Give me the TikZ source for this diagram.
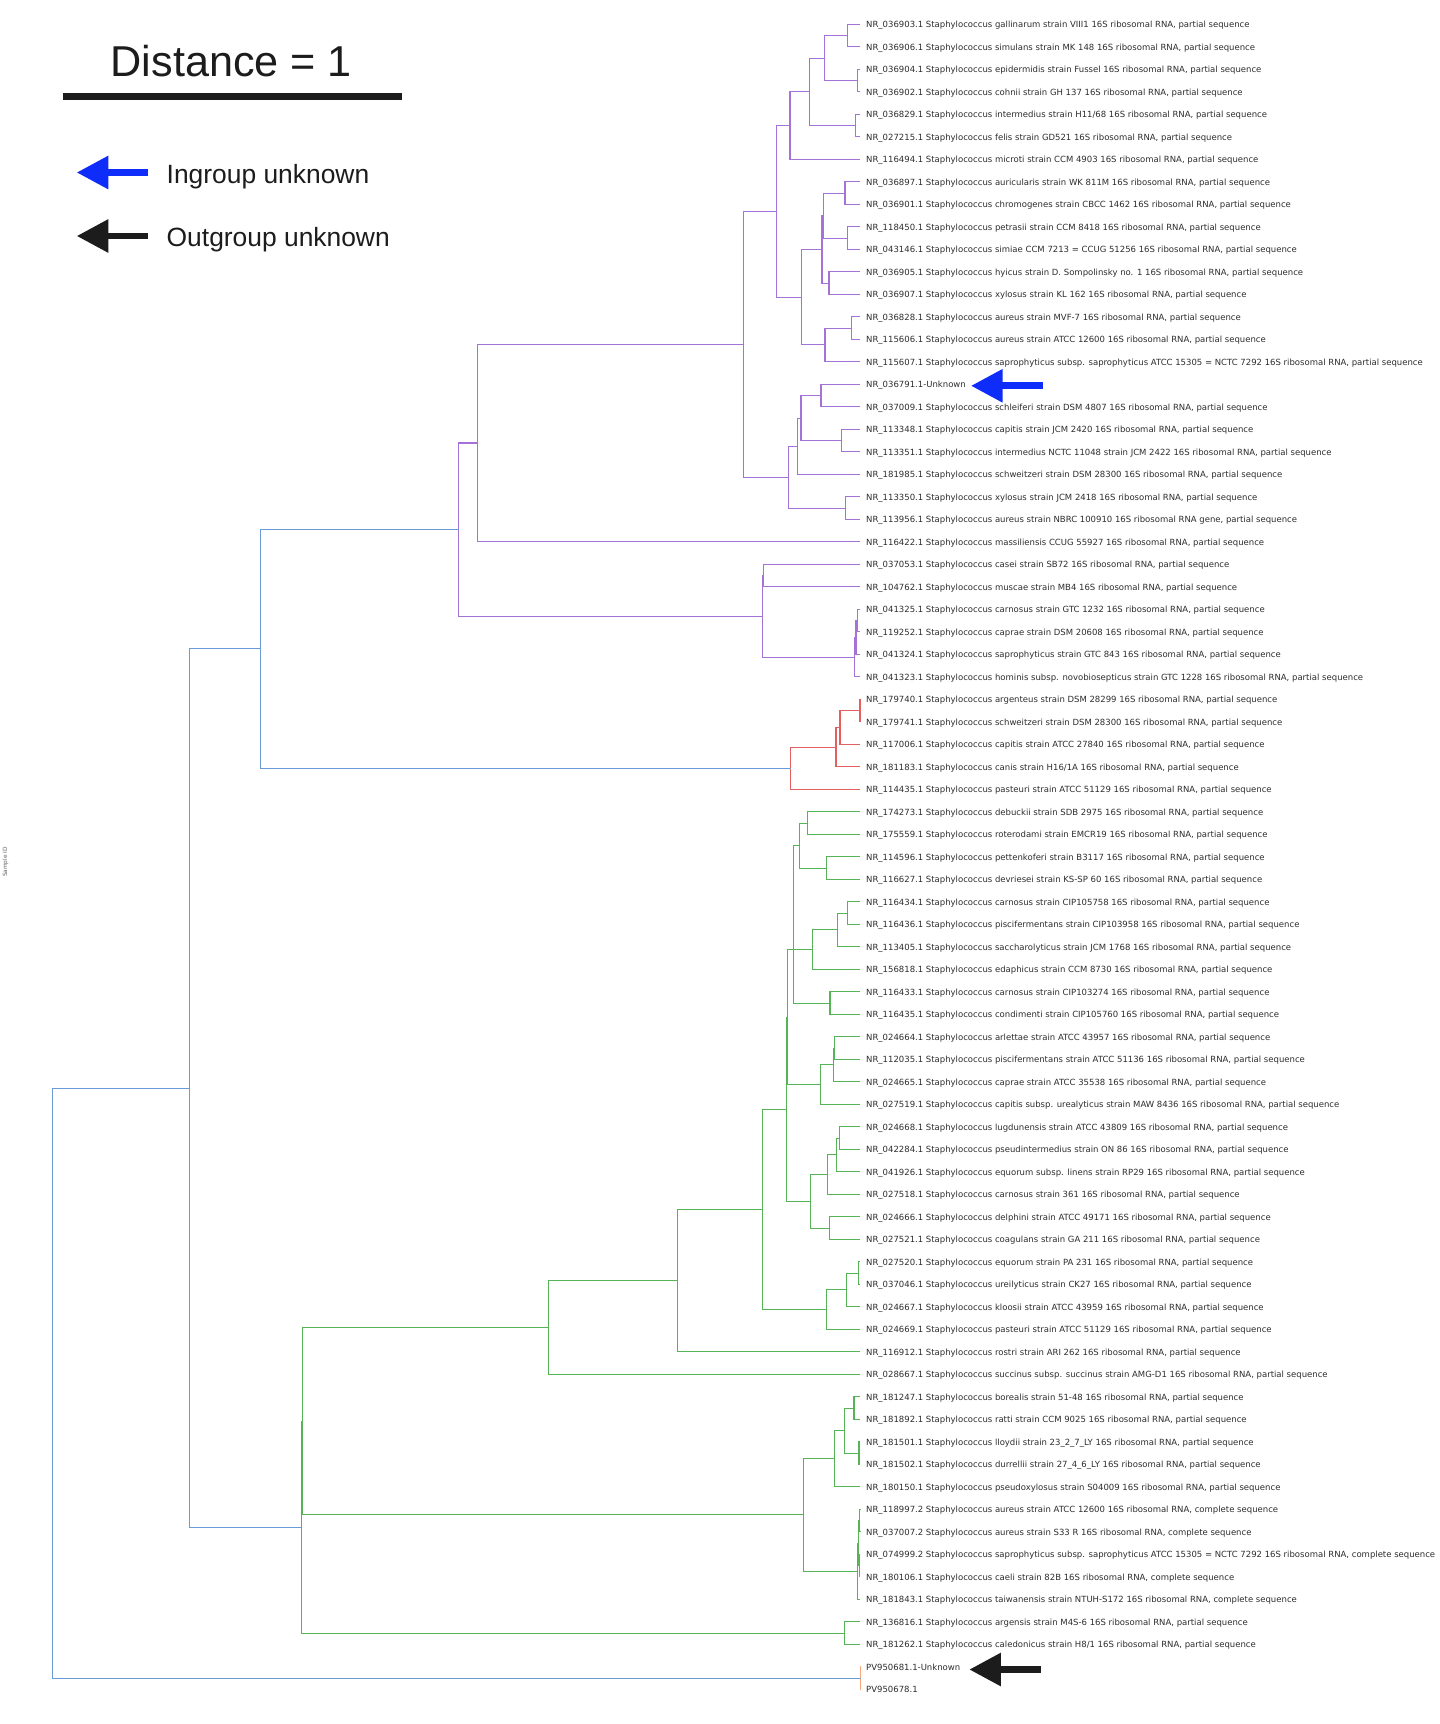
\documentclass[tikz,border=0pt]{standalone}
\usepackage{fontspec}
\setmainfont{DejaVu Sans}
\newfontfamily\legfont{Liberation Sans}
\usetikzlibrary{arrows.meta,calc}
\definecolor{cP}{RGB}{165,115,215}
\definecolor{cR}{RGB}{228,95,95}
\definecolor{cG}{RGB}{85,180,85}
\definecolor{cB}{RGB}{105,155,215}
\definecolor{cO}{RGB}{248,165,120}
\definecolor{cT}{RGB}{45,45,45}
\definecolor{cK}{RGB}{28,28,28}
\definecolor{cA}{RGB}{15,45,250}
\newcommand\ps{16S ribosomal RNA, partial sequence}
\newcommand\cs{16S ribosomal RNA, complete sequence}
\newcommand\St{Staphylococcus}
% tree node: colour, name, x, child a, child b
\newcommand\tn[5]{%
  \path let \p1=(#4), \p2=(#5) in ({#3pt},{0.5*(\y1+\y2)}) coordinate (#2);
  \draw[treeline,#1] (#4) -| (#2) |- (#5);}
\newcommand\leaf[2]{%
  \coordinate (l#1) at (860,{-24.3-22.5*(#1-1)});
  \node[leaflabel] (t#1) at (866,{-27.6-22.5*(#1-1)}) {#2};}
\tikzset{
  treeline/.style={line width=1.05pt},
  leaflabel/.style={anchor=base west,inner sep=0pt,text=cT,font=\fontsize{8.5}{10}\selectfont},
  legtext/.style={anchor=base west,inner sep=0pt,text=cK},
  bigarrow/.style={line width=6.8pt,-{Triangle[length=31.6pt,width=31.7pt]}},
}
\begin{document}
\begin{tikzpicture}[x=1pt,y=1pt]
\fill[white] (0,0) rectangle (1440,-1724);
\useasboundingbox (0,0) rectangle (1440,-1724);

% ---------- leaves ----------
\leaf{1}{NR\_036903.1 \St{} gallinarum strain VIII1 \ps}
\leaf{2}{NR\_036906.1 \St{} simulans strain MK 148 \ps}
\leaf{3}{NR\_036904.1 \St{} epidermidis strain Fussel \ps}
\leaf{4}{NR\_036902.1 \St{} cohnii strain GH 137 \ps}
\leaf{5}{NR\_036829.1 \St{} intermedius strain H11/68 \ps}
\leaf{6}{NR\_027215.1 \St{} felis strain GD521 \ps}
\leaf{7}{NR\_116494.1 \St{} microti strain CCM 4903 \ps}
\leaf{8}{NR\_036897.1 \St{} auricularis strain WK 811M \ps}
\leaf{9}{NR\_036901.1 \St{} chromogenes strain CBCC 1462 \ps}
\leaf{10}{NR\_118450.1 \St{} petrasii strain CCM 8418 \ps}
\leaf{11}{NR\_043146.1 \St{} simiae CCM 7213 = CCUG 51256 \ps}
\leaf{12}{NR\_036905.1 \St{} hyicus strain D. Sompolinsky no. 1 \ps}
\leaf{13}{NR\_036907.1 \St{} xylosus strain KL 162 \ps}
\leaf{14}{NR\_036828.1 \St{} aureus strain MVF-7 \ps}
\leaf{15}{NR\_115606.1 \St{} aureus strain ATCC 12600 \ps}
\leaf{16}{NR\_115607.1 \St{} saprophyticus subsp. saprophyticus ATCC 15305 = NCTC 7292 \ps}
\leaf{17}{NR\_036791.1-Unknown}
\leaf{18}{NR\_037009.1 \St{} schleiferi strain DSM 4807 \ps}
\leaf{19}{NR\_113348.1 \St{} capitis strain JCM 2420 \ps}
\leaf{20}{NR\_113351.1 \St{} intermedius NCTC 11048 strain JCM 2422 \ps}
\leaf{21}{NR\_181985.1 \St{} schweitzeri strain DSM 28300 \ps}
\leaf{22}{NR\_113350.1 \St{} xylosus strain JCM 2418 \ps}
\leaf{23}{NR\_113956.1 \St{} aureus strain NBRC 100910 16S ribosomal RNA gene, partial sequence}
\leaf{24}{NR\_116422.1 \St{} massiliensis CCUG 55927 \ps}
\leaf{25}{NR\_037053.1 \St{} casei strain SB72 \ps}
\leaf{26}{NR\_104762.1 \St{} muscae strain MB4 \ps}
\leaf{27}{NR\_041325.1 \St{} carnosus strain GTC 1232 \ps}
\leaf{28}{NR\_119252.1 \St{} caprae strain DSM 20608 \ps}
\leaf{29}{NR\_041324.1 \St{} saprophyticus strain GTC 843 \ps}
\leaf{30}{NR\_041323.1 \St{} hominis subsp. novobiosepticus strain GTC 1228 \ps}
\leaf{31}{NR\_179740.1 \St{} argenteus strain DSM 28299 \ps}
\leaf{32}{NR\_179741.1 \St{} schweitzeri strain DSM 28300 \ps}
\leaf{33}{NR\_117006.1 \St{} capitis strain ATCC 27840 \ps}
\leaf{34}{NR\_181183.1 \St{} canis strain H16/1A \ps}
\leaf{35}{NR\_114435.1 \St{} pasteuri strain ATCC 51129 \ps}
\leaf{36}{NR\_174273.1 \St{} debuckii strain SDB 2975 \ps}
\leaf{37}{NR\_175559.1 \St{} roterodami strain EMCR19 \ps}
\leaf{38}{NR\_114596.1 \St{} pettenkoferi strain B3117 \ps}
\leaf{39}{NR\_116627.1 \St{} devriesei strain KS-SP 60 \ps}
\leaf{40}{NR\_116434.1 \St{} carnosus strain CIP105758 \ps}
\leaf{41}{NR\_116436.1 \St{} piscifermentans strain CIP103958 \ps}
\leaf{42}{NR\_113405.1 \St{} saccharolyticus strain JCM 1768 \ps}
\leaf{43}{NR\_156818.1 \St{} edaphicus strain CCM 8730 \ps}
\leaf{44}{NR\_116433.1 \St{} carnosus strain CIP103274 \ps}
\leaf{45}{NR\_116435.1 \St{} condimenti strain CIP105760 \ps}
\leaf{46}{NR\_024664.1 \St{} arlettae strain ATCC 43957 \ps}
\leaf{47}{NR\_112035.1 \St{} piscifermentans strain ATCC 51136 \ps}
\leaf{48}{NR\_024665.1 \St{} caprae strain ATCC 35538 \ps}
\leaf{49}{NR\_027519.1 \St{} capitis subsp. urealyticus strain MAW 8436 \ps}
\leaf{50}{NR\_024668.1 \St{} lugdunensis strain ATCC 43809 \ps}
\leaf{51}{NR\_042284.1 \St{} pseudintermedius strain ON 86 \ps}
\leaf{52}{NR\_041926.1 \St{} equorum subsp. linens strain RP29 \ps}
\leaf{53}{NR\_027518.1 \St{} carnosus strain 361 \ps}
\leaf{54}{NR\_024666.1 \St{} delphini strain ATCC 49171 \ps}
\leaf{55}{NR\_027521.1 \St{} coagulans strain GA 211 \ps}
\leaf{56}{NR\_027520.1 \St{} equorum strain PA 231 \ps}
\leaf{57}{NR\_037046.1 \St{} ureilyticus strain CK27 \ps}
\leaf{58}{NR\_024667.1 \St{} kloosii strain ATCC 43959 \ps}
\leaf{59}{NR\_024669.1 \St{} pasteuri strain ATCC 51129 \ps}
\leaf{60}{NR\_116912.1 \St{} rostri strain ARI 262 \ps}
\leaf{61}{NR\_028667.1 \St{} succinus subsp. succinus strain AMG-D1 \ps}
\leaf{62}{NR\_181247.1 \St{} borealis strain 51-48 \ps}
\leaf{63}{NR\_181892.1 \St{} ratti strain CCM 9025 \ps}
\leaf{64}{NR\_181501.1 \St{} lloydii strain 23\_2\_7\_LY \ps}
\leaf{65}{NR\_181502.1 \St{} durrellii strain 27\_4\_6\_LY \ps}
\leaf{66}{NR\_180150.1 \St{} pseudoxylosus strain S04009 \ps}
\leaf{67}{NR\_118997.2 \St{} aureus strain ATCC 12600 \cs}
\leaf{68}{NR\_037007.2 \St{} aureus strain S33 R \cs}
\leaf{69}{NR\_074999.2 \St{} saprophyticus subsp. saprophyticus ATCC 15305 = NCTC 7292 \cs}
\leaf{70}{NR\_180106.1 \St{} caeli strain 82B \cs}
\leaf{71}{NR\_181843.1 \St{} taiwanensis strain NTUH-S172 \cs}
\leaf{72}{NR\_136816.1 \St{} argensis strain M4S-6 \ps}
\leaf{73}{NR\_181262.1 \St{} caledonicus strain H8/1 \ps}
\leaf{74}{PV950681.1-Unknown}
\leaf{75}{PV950678.1}

% ---------- purple clade ----------
\tn{cP}{p12}{847.3}{l1}{l2}
\tn{cP}{p34}{857.7}{l3}{l4}
\tn{cP}{p14}{824.3}{p12}{p34}
\tn{cP}{p56}{855.7}{l5}{l6}
\tn{cP}{p16}{809.3}{p14}{p56}
\tn{cP}{p17}{790}{p16}{l7}
\tn{cP}{p89}{845}{l8}{l9}
\tn{cP}{p1011}{847.3}{l10}{l11}
\tn{cP}{p811}{823.3}{p89}{p1011}
\tn{cP}{p1213}{829}{l12}{l13}
\tn{cP}{p813}{822}{p811}{p1213}
\tn{cP}{p1415}{851.7}{l14}{l15}
\tn{cP}{p1416}{825}{p1415}{l16}
\tn{cP}{p816}{801.7}{p813}{p1416}
\tn{cP}{p116}{776.7}{p17}{p816}
\tn{cP}{p1718}{821}{l17}{l18}
\tn{cP}{p1920}{841.7}{l19}{l20}
\tn{cP}{p1720}{801}{p1718}{p1920}
\tn{cP}{p1721}{797.3}{p1720}{l21}
\tn{cP}{p2223}{845.7}{l22}{l23}
\tn{cP}{p1723}{788.7}{p1721}{p2223}
\tn{cP}{p123}{743.7}{p116}{p1723}
\tn{cP}{p124}{477.3}{p123}{l24}
\tn{cP}{p2526}{763.5}{l25}{l26}
\tn{cP}{p2728}{857.3}{l27}{l28}
\tn{cP}{p2729}{856}{p2728}{l29}
\tn{cP}{p2730}{854.3}{p2729}{l30}
\tn{cP}{p2530}{762.7}{p2526}{p2730}
\tn{cP}{p130}{458.7}{p124}{p2530}

% ---------- red clade ----------
\tn{cR}{r3132}{860}{l31}{l32}
\tn{cR}{r3133}{840}{r3132}{l33}
\tn{cR}{r3134}{836}{r3133}{l34}
\tn{cR}{r3135}{790.7}{r3134}{l35}

% ---------- green clade ----------
\tn{cG}{g3637}{807.7}{l36}{l37}
\tn{cG}{g3839}{826.7}{l38}{l39}
\tn{cG}{g3639}{799.3}{g3637}{g3839}
\tn{cG}{g4041}{847.7}{l40}{l41}
\tn{cG}{g4042}{837.3}{g4041}{l42}
\tn{cG}{g4043}{812.7}{g4042}{l43}
\tn{cG}{g4445}{830}{l44}{l45}
\tn{cG}{gX}{793.3}{g3639}{g4445}
\tn{cG}{g4647}{834.5}{l46}{l47}
\tn{cG}{g4648}{833.3}{g4647}{l48}
\tn{cG}{g4649}{820.7}{g4648}{l49}
\tn{cG}{gU}{787.3}{g4043}{g4649}
\tn{cG}{g5051}{839.3}{l50}{l51}
\tn{cG}{g5052}{836.7}{g5051}{l52}
\tn{cG}{g5053}{827.7}{g5052}{l53}
\tn{cG}{g5455}{829.3}{l54}{l55}
\tn{cG}{g5055}{810.7}{g5053}{g5455}
\tn{cG}{gA}{786.3}{gU}{g5055}
\tn{cG}{g5657}{858.3}{l56}{l57}
\tn{cG}{g5658}{846.7}{g5657}{l58}
\tn{cG}{g5659}{826.7}{g5658}{l59}
\tn{cG}{g1}{762.7}{gA}{g5659}
\tn{cG}{g2}{677.1}{g1}{l60}
\tn{cG}{g3}{548.5}{g2}{l61}
\tn{cG}{g6263}{854}{l62}{l63}
\tn{cG}{g6465}{859}{l64}{l65}
\tn{cG}{g6265}{844.3}{g6263}{g6465}
\tn{cG}{g6266}{834.3}{g6265}{l66}
\tn{cG}{g6768}{859.7}{l67}{l68}
\tn{cG}{g6970}{859.3}{l69}{l70}
\tn{cG}{g6770}{858.3}{g6768}{g6970}
\tn{cG}{g6771}{857.7}{g6770}{l71}
\tn{cG}{g6271}{803.3}{g6266}{g6771}
\tn{cG}{g7273}{844.3}{l72}{l73}
\tn{cG}{g4}{302.3}{g3}{g6271}
\tn{cG}{g5}{301.2}{g4}{g7273}

% ---------- outgroup ----------
\tn{cO}{o7475}{860.5}{l74}{l75}

% ---------- backbone ----------
\tn{cB}{b1}{260.5}{p130}{r3135}
\tn{cB}{b2}{189.1}{b1}{g5}
\tn{cB}{root}{52.8}{b2}{o7475}

% ---------- arrows at unknowns ----------
\coordinate (ia0) at (1042.7,-385.8);
\coordinate (ia1) at (971,-385.8);
\draw[bigarrow,cA] (ia0) -- (ia1);
\coordinate (oa0) at (1040.7,-1669.5);
\coordinate (oa1) at (969.3,-1669.5);
\draw[bigarrow,cK] (oa0) -- (oa1);

% ---------- legend ----------
\node[legtext,font=\legfont\fontsize{43.2}{48}\selectfont] (dist) at (110.5,-76) {Distance = 1};
\coordinate (sb0) at (63.3,-96.3);
\coordinate (sb1) at (401.7,-96.3);
\draw[cK,line width=7.3pt] (sb0) -- (sb1);
\coordinate (la0) at (148.3,-172.5);
\coordinate (la1) at (76.7,-172.5);
\draw[bigarrow,cA] (la0) -- (la1);
\node[legtext,font=\legfont\fontsize{26.4}{30}\selectfont] (ing) at (166.5,-183.3) {Ingroup unknown};
\coordinate (lb0) at (148.3,-236);
\coordinate (lb1) at (76.7,-236);
\draw[bigarrow,cK] (lb0) -- (lb1);
\node[legtext,font=\legfont\fontsize{26.4}{30}\selectfont] (outg) at (166.5,-246.7) {Outgroup unknown};

% ---------- axis label ----------
\node[rotate=90,inner sep=0pt,text=black!60,font=\fontsize{5.8}{6}\selectfont] (sid) at (5.5,-862) {Sample ID};
\end{tikzpicture}
\end{document}
